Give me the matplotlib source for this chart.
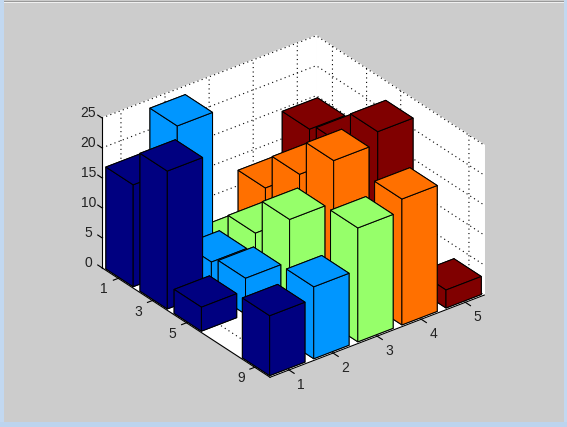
import matplotlib
matplotlib.use("Agg")
import matplotlib.pyplot as plt
from matplotlib.patches import Rectangle

plt.rcParams["font.family"] = ["Liberation Sans", "DejaVu Sans"]

series_x = [1, 2, 3, 4, 5]
rows_y = [1, 3, 5, 9]
z_ticks = [0, 5, 10, 15, 20, 25]

# one list per x position, values follow rows_y
heights_1 = [17, 23, 4, 10]
heights_2 = [24, 5, 6, 12]
heights_3 = [1, 7, 13, 19]
heights_4 = [8, 14, 20, 21]
heights_5 = [15, 16, 22, 3]
all_heights = [heights_1, heights_2, heights_3, heights_4, heights_5]

bar_colors = ["#000080", "#0096FF", "#96FF6A", "#FF7000", "#800000"]

W, H = 567, 427
fig = plt.figure(figsize=(W / 100, (H + 0.01) / 100), dpi=100, facecolor="#CCCCCC")


def frame_strip(x, y, w, h, color):
    # window frame left over from the screenshot, given in pixels from bottom left
    fig.add_artist(Rectangle((x / W, y / H), w / W, h / H, transform=fig.transFigure, color=color, lw=0))


frame_strip(0, 0, 4, H, "#C2D8F0")
frame_strip(563.5, 0, 4, H, "#C2D8F0")
frame_strip(0, 0, W, 4.5, "#BCD4EE")
frame_strip(4, H - 2, 559.5, 1, "#999999")
frame_strip(4, H - 3, 559.5, 1, "#F0F0F0")

side = 410.8
ax = fig.add_axes([82.2 / W, 9.55 / H, side / W, side / H], projection="3d",
                  proj_type="ortho", computed_zorder=False)
ax.patch.set_alpha(0)
ax.view_init(elev=30, azim=-127.5)
ax.set_box_aspect((270, 276, 173))

x_lo, x_hi = 0.57, 5.43
y_near, y_far = 9.9, 0.05
ax.set_xlim(x_lo, x_hi, view_margin=0)
ax.set_ylim(y_near, y_far, view_margin=0)
ax.set_zlim(0, 25, view_margin=0)
ax.set_xticks(series_x)
ax.set_yticks(rows_y)
ax.set_zticks(z_ticks)

for axis in (ax.xaxis, ax.yaxis, ax.zaxis):
    axis.set_pane_color("white")
    axis.pane.set_edgecolor("white")
    axis.line.set_color("black")
    axis.line.set_linewidth(0.8)
    axis._axinfo["grid"].update(color="black", linestyle=(0, (1, 3)), linewidth=0.8)
    axis._axinfo["tick"].update(inward_factor=0.0, outward_factor=0.0, linewidth={True: 0.8, False: 0.5})
ax.tick_params(labelsize=10, colors="#222222")
ax.tick_params(axis="x", pad=3)
ax.tick_params(axis="y", pad=2)
ax.tick_params(axis="z", pad=-2.5)

for axis in (ax.xaxis, ax.yaxis, ax.zaxis):
    for label in axis.get_ticklabels():
        label.set_va("baseline")

# tick marks drawn by hand, the 3d axis ones came out too short to see
tick_style = dict(color="black", linewidth=0.8, zorder=1)
for x in series_x:
    ax.plot([x, x], [y_near, y_near + 0.3], [0, 0], **tick_style)
for y in rows_y:
    ax.plot([x_lo, x_lo - 0.11], [y, y], [0, 0], **tick_style)
for z in z_ticks:
    ax.plot([x_lo, x_lo], [y_far, y_far - 0.25], [z, z], **tick_style)

# draw back to front, far corner first
order = 10
for i in reversed(range(len(series_x))):
    for j in range(len(rows_y)):
        ax.bar3d(series_x[i] - 0.4, rows_y[j] - 0.8, 0, 0.8, 1.6, all_heights[i][j],
                 color=bar_colors[i], edgecolor="black", linewidth=0.72, shade=False, zorder=order)
        order += 1

fig.savefig("out.png", dpi=100, facecolor=fig.get_facecolor())
